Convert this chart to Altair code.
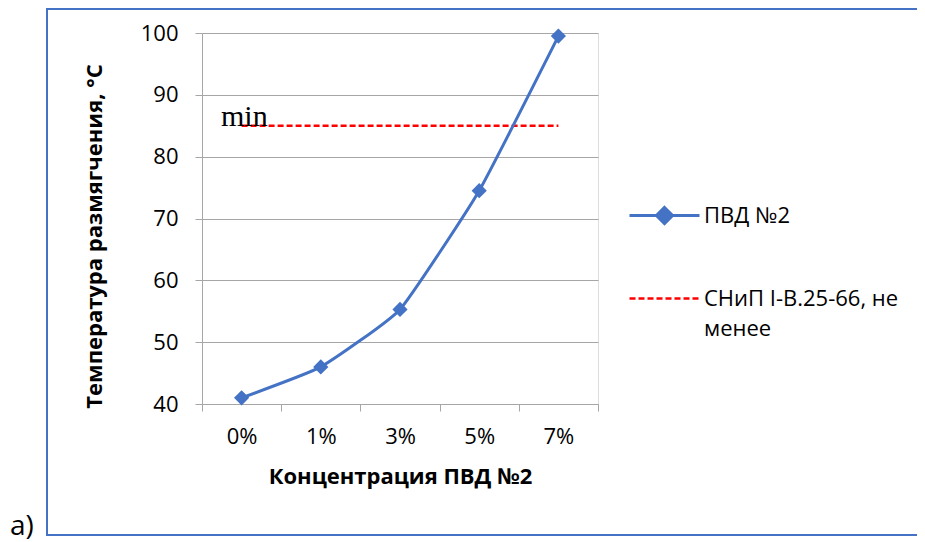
import altair as alt
import pandas as pd

# ---- data ----
categories = ["0%", "1%", "3%", "5%", "7%"]
values = [41.0, 46.0, 55.3, 74.5, 99.5]
norm_value = 85
series_name = "ПВД №2"
norm_name = "СНиП I-B.25-66, не менее"
y_ticks = [40, 50, 60, 70, 80, 90, 100]

BLUE = "#4472C4"
RED = "#FF0000"
GRID = "#A6A6A6"
FONT = "Open Sans"

df = pd.DataFrame({"cat": categories, "val": values, "series": series_name})
df_norm = pd.DataFrame({"cat": categories, "val": [norm_value] * len(categories), "norm": norm_name})
df_min = pd.DataFrame({"val": [norm_value], "t": ["min"]})

x_enc = alt.X(
    "cat:N",
    sort=categories,
    scale=alt.Scale(type="band", paddingInner=0, paddingOuter=0),
    axis=alt.Axis(
        title="Концентрация ПВД №2",
        labelAngle=0,
        labelAlign="center",
        tickBand="extent",
        grid=False,
        domainColor=GRID,
        tickColor=GRID,
        tickSize=7,
        labelPadding=25,
        labelFont=FONT,
        labelFontSize=22,
        labelColor="#000000",
        titleFont=FONT,
        titleFontSize=22,
        titleFontWeight="bold",
        titleColor="#000000",
        titlePadding=19,
    ),
)
y_enc = alt.Y(
    "val:Q",
    scale=alt.Scale(domain=[40, 100], nice=False, zero=False),
    axis=alt.Axis(
        title="Температура размягчения, °C",
        values=y_ticks,
        grid=True,
        gridColor=GRID,
        domainColor=GRID,
        tickColor=GRID,
        tickSize=7,
        labelPadding=17,
        labelFont=FONT,
        labelFontSize=22,
        labelColor="#000000",
        titleFont=FONT,
        titleFontSize=22,
        titleFontWeight="bold",
        titleColor="#000000",
        titlePadding=34,
        titleY=203,
    ),
)

frame = alt.Chart(pd.DataFrame({"k": [0]})).mark_rect(
    fill=None, stroke=BLUE, strokeWidth=2
).encode(
    x=alt.value(-155), x2=alt.value(730), y=alt.value(-24), y2=alt.value(502)
)

label_a = alt.Chart(pd.DataFrame({"t": ["a)"]})).mark_text(
    align="left", baseline="alphabetic", font=FONT, fontSize=28, color="#000000"
).encode(x=alt.value(-192), y=alt.value(502), text="t:N")

sym1 = "M-1,0L1,0M0,-0.23L0.23,0L0,0.23L-0.23,0Z"
sym2 = "M-1,0L1,0"

main = alt.Chart(df).mark_line(
    strokeWidth=3,
    interpolate="cardinal",
    tension=0.6,
    point=alt.OverlayMarkDef(shape="diamond", size=230, filled=True, color=BLUE),
).encode(
    x=x_enc,
    y=y_enc,
    color=alt.Color(
        "series:N",
        scale=alt.Scale(domain=[series_name], range=[BLUE]),
        legend=alt.Legend(
            title=None,
            orient="none",
            legendX=426,
            legendY=146,
            padding=0,
            symbolType=sym1,
            symbolSize=4900,
            symbolStrokeWidth=3,
            symbolFillColor=BLUE,
            symbolStrokeColor=BLUE,
            labelFont=FONT,
            labelFontSize=22,
            labelColor="#000000",
            labelOffset=3,
            labelLimit=400,
        ),
    ),
)

norm = alt.Chart(df_norm).mark_line(color=RED, strokeWidth=2.5).encode(
    x=alt.X("cat:N", sort=categories),
    y=alt.Y("val:Q"),
    strokeDash=alt.StrokeDash(
        "norm:N",
        scale=alt.Scale(domain=[norm_name], range=[[6, 3]]),
        legend=alt.Legend(
            title=None,
            orient="none",
            legendX=426,
            legendY=229,
            padding=0,
            symbolType=sym2,
            symbolSize=4900,
            symbolStrokeWidth=2.5,
            symbolStrokeColor=RED,
            symbolFillColor="transparent",
            labelFont=FONT,
            labelFontSize=22,
            labelColor="#000000",
            labelOffset=3,
            labelLimit=400,
            labelExpr="datum.label == 'СНиП I-B.25-66, не менее' ? ['СНиП I-B.25-66, не', 'менее'] : datum.label",
        ),
    ),
)

min_text = alt.Chart(df_min).mark_text(
    align="left", baseline="alphabetic", font="Liberation Serif", fontSize=30, color="#000000"
).encode(x=alt.value(19), y=alt.Y("val:Q"), text="t:N")

chart = alt.layer(frame, label_a, norm, main, min_text).properties(
    width=396,
    height=371,
    padding={"left": 194, "top": 25, "right": 319, "bottom": 138},
    autosize=alt.AutoSizeParams(type="none"),
    background="white",
).configure_view(stroke=None).configure(
    style={"guide-label": {"lineHeight": 30}}
)

chart.save("out.html", embed_options={"renderer": "svg", "actions": False})
